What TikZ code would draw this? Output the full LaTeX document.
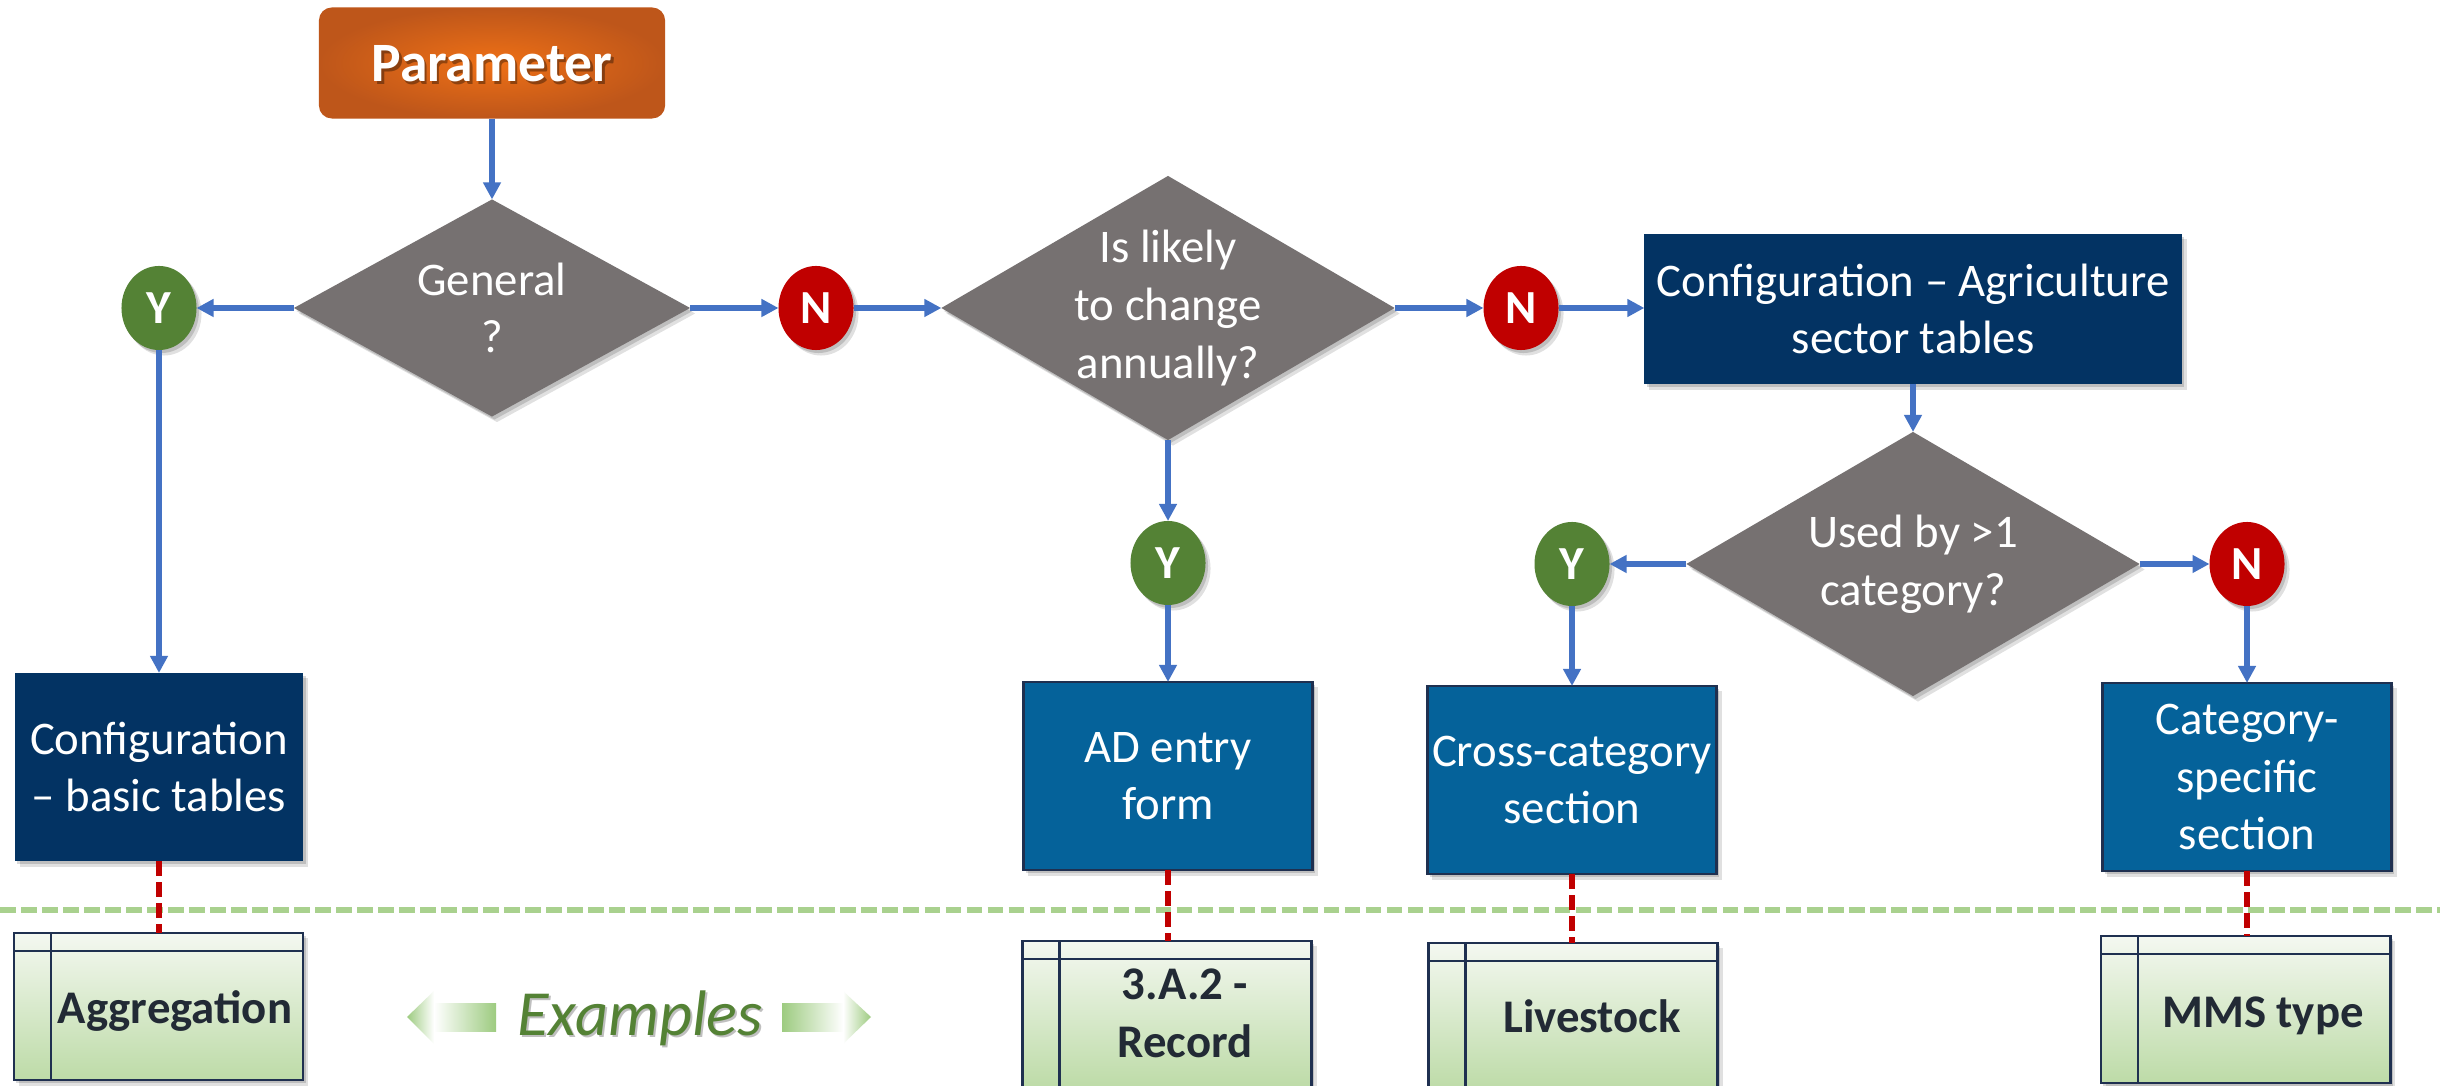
\documentclass[tikz,border=0pt]{standalone}
\usepackage{fontspec}
\setmainfont{Carlito}
\usetikzlibrary{shapes.geometric,arrows.meta,shadows,calc}
\definecolor{arrowblue}{HTML}{4472C4}
\definecolor{diagrey}{HTML}{767171}
\definecolor{ygreen}{HTML}{548235}
\definecolor{nred}{HTML}{C00000}
\definecolor{navy}{HTML}{033363}
\definecolor{midblue}{HTML}{05629A}
\definecolor{bordernavy}{HTML}{1F3050}
\definecolor{orangein}{HTML}{EE7016}
\definecolor{orangeout}{HTML}{BE561A}
\definecolor{tabtop}{HTML}{F4F8F1}
\definecolor{tabbot}{HTML}{BDDBA7}
\definecolor{tabtext}{HTML}{222A35}
\definecolor{sepgreen}{HTML}{A9D18E}
\definecolor{exgreen}{HTML}{548235}
\definecolor{arrowgreen}{HTML}{9DCB80}
\begin{document}
\begin{tikzpicture}[x=0.01cm,y=-0.01cm,
  txt/.style={font=\fontsize{13.3}{16.4}\selectfont},
  shad/.style={drop shadow={opacity=0.12,shadow xshift=0.05cm,shadow yshift=-0.055cm,fill=black},
               drop shadow={opacity=0.15,shadow xshift=0.025cm,shadow yshift=-0.03cm,fill=black}},
  diam/.style={diamond,fill=diagrey,inner sep=0,outer sep=0,shad},
  dtext/.style={txt,text=white,align=center,inner sep=0},
  ycirc/.style={ellipse,fill=ygreen,minimum width=0.75cm,minimum height=0.84cm,inner sep=0,outer sep=0,text=white,font=\bfseries\fontsize{13.5}{16}\selectfont,shad},
  ncirc/.style={ycirc,fill=nred},
  navybox/.style={rectangle,fill=navy,text=white,align=center,inner sep=0,outer sep=0,txt,shad},
  bluebox/.style={rectangle,fill=midblue,draw=bordernavy,line width=0.025cm,text=white,align=center,inner sep=0,outer sep=0,txt,shad,minimum width=2.89cm,minimum height=1.88cm},
  conn/.style={draw=arrowblue,line width=0.058cm,-{Triangle[length=0.17cm,width=0.17cm]}},
  reddash/.style={draw=nred,line width=0.056cm,dash pattern=on 0.15cm off 0.06cm},
  sepline/.style={draw=sepgreen,line width=0.05cm,dash pattern=on 0.155cm off 0.055cm},
  extab/.style={rectangle,draw=bordernavy,line width=0.028cm,top color=tabtop,bottom color=tabbot,minimum width=2.89cm,minimum height=1.47cm,inner sep=0,outer sep=0,shad},
  tabline/.style={draw=bordernavy,line width=0.028cm},
  tabtxt/.style={text=tabtext,font=\bfseries\fontsize{13.3}{16.4}\selectfont,align=center,inner sep=0}
]
\fill[white] (0,0) rectangle (2440,1086);
\useasboundingbox (0,0) rectangle (2440,1086);

% separator
\coordinate (sepL) at (0,910);
\coordinate (sepR) at (2440,910);
\draw[sepline] (sepL) -- (sepR);

% Parameter
\node[rectangle,rounded corners=0.13cm,inner color=orangein,outer color=orangeout,minimum width=3.46cm,minimum height=1.11cm,inner sep=0,outer sep=0] (param) at (492,63) {};
\node[anchor=base,text=black,opacity=0.35,font=\bfseries\fontsize{15.8}{19}\selectfont,inner sep=0] (paramsh) at (494.5,84.5) {Parameter};
\node[anchor=base,text=white,font=\bfseries\fontsize{15.8}{19}\selectfont,inner sep=0] (paramt) at (492,82) {Parameter};

% diamonds
\node[diam,minimum width=3.96cm,minimum height=2.17cm] (d1) at (492,308) {};
\node[dtext] (d1t) at (d1.center) {General\\?};
\node[diam,minimum width=4.53cm,minimum height=2.64cm] (d2) at (1168,308) {};
\node[dtext] (d2t) at (d2.center) {Is likely\\to change\\annually?};
\node[diam,minimum width=4.53cm,minimum height=2.64cm] (d3) at (1913,564) {};
\node[dtext] (d3t) at (d3.center) {Used by >1\\category?};

% circles
\node[ycirc] (y1) at (159,308) {Y};
\node[ncirc] (n1) at (816,308) {N};
\node[ncirc] (n2) at (1521,308) {N};
\node[ycirc] (y2) at (1168,563) {Y};
\node[ycirc] (y3) at (1572,564) {Y};
\node[ncirc] (n3) at (2247,564) {N};

% boxes
\node[navybox,minimum width=5.37cm,minimum height=1.50cm] (agri) at (1913,309) {Configuration -- Agriculture\\sector tables};
\node[navybox,minimum width=2.88cm,minimum height=1.88cm] (cfgbasic) at (159,767) {Configuration\\-- basic tables};
\node[bluebox] (adbox) at (1168,776) {AD entry\\form};
\node[bluebox] (crossbox) at (1572,780) {Cross-category\\section};
\node[bluebox] (catbox) at (2247,777) {Category-\\specific\\section};

% connectors
\draw[conn] (param.south) -- (d1.north);
\draw[conn] (d1.west) -- (y1.east);
\draw[conn] (d1.east) -- (n1.west);
\draw[conn] (n1.east) -- (d2.west);
\draw[conn] (d2.east) -- (n2.west);
\draw[conn] (n2.east) -- (n2.east -| agri.west);
\draw[conn] (d3.north |- agri.south) -- (d3.north);
\draw[conn] (d3.west) -- (y3.east);
\draw[conn] (d3.east) -- (n3.west);
\draw[conn] (d2.south) -- (y2.north);
\draw[conn] (y2.south) -- (adbox.north);
\draw[conn] (y1.south) -- (cfgbasic.north);
\draw[conn] (y3.south) -- (crossbox.north);
\draw[conn] (n3.south) -- (catbox.north);

% example tables
\node[extab] (tabA) at (158.5,1006.5) {};
\node[extab] (tabB) at (1167,1014.5) {};
\node[extab] (tabC) at (1573,1016.5) {};
\node[extab] (tabD) at (2245.5,1009.5) {};
\foreach \t in {tabA,tabB,tabC,tabD}{
  \draw[tabline] ($(\t.north west)+(0,18)$) -- ($(\t.north east)+(0,18)$);
  \draw[tabline] ($(\t.north west)+(37,0)$) -- ($(\t.south west)+(37,0)$);
}
\node[tabtxt] (tabAt) at ($(tabA.center)+(16.5,5)$) {Aggregation};
\node[tabtxt] (tabBt) at ($(tabB.center)+(18,-1)$) {3.A.2 -\\Record};
\node[tabtxt] (tabCt) at ($(tabC.center)+(19,0)$) {Livestock};
\node[tabtxt] (tabDt) at ($(tabD.center)+(17.5,6.5)$) {MMS type};

% red dashed links
\draw[reddash] (cfgbasic.south) -- (cfgbasic.south |- tabA.north);
\draw[reddash] (adbox.south) -- (adbox.south |- tabB.north);
\draw[reddash] (crossbox.south) -- (crossbox.south |- tabC.north);
\draw[reddash] (catbox.south) -- (catbox.south |- tabD.north);

% Examples label
\shade[left color=arrowgreen,right color=white] (407,1017) -- (434,991) -- (434,1044) -- cycle;
\shade[left color=white,right color=arrowgreen] (434,1003) rectangle (496,1031);
\shade[left color=arrowgreen,right color=white] (782,1003) rectangle (843,1031);
\shade[left color=white,right color=arrowgreen] (871,1017) -- (843,991) -- (843,1044) -- cycle;
\node[anchor=base,text=black,opacity=0.25,font=\itshape\fontsize{18.3}{22}\selectfont,inner sep=0] (exsh) at (642,1037) {Examples};
\node[anchor=base,text=exgreen,font=\itshape\fontsize{18.3}{22}\selectfont,inner sep=0] (ext) at (640,1035) {Examples};
\end{tikzpicture}
\end{document}
